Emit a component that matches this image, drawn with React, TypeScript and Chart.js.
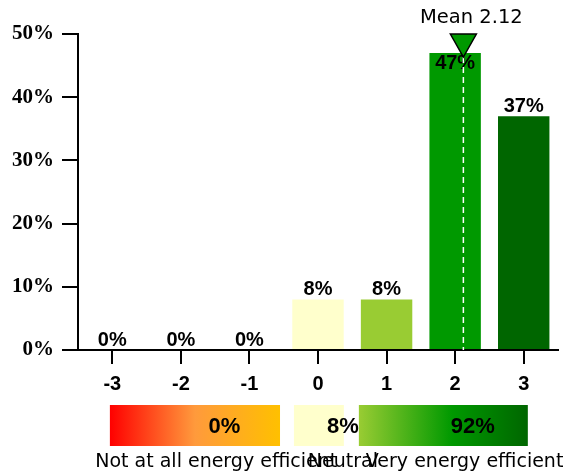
import React, { useEffect, useRef } from "react";
import { Chart, registerables } from "chart.js";

Chart.register(...registerables);

const categories = ["-3", "-2", "-1", "0", "1", "2", "3"];
const values = [0, 0, 0, 8, 8, 47, 37];
const barColors = ["#ff0000", "#ff8000", "#ffc000", "#ffffcc", "#99cc33", "#009900", "#006600"];
const yTicks = [0, 10, 20, 30, 40, 50];
const meanValue = 2.12;
const summaryLabels = ["Not at all energy efficient", "Neutral", "Very energy efficient"];
const summaryValues = [0, 8, 92];
// box extents in category units relative to the "0" category
const summaryExtents = [
  [-3.035, -0.554],
  [-0.351, 0.377],
  [0.596, 3.06],
];

const overlayPlugin = {
  id: "overlay",
  afterDatasetsDraw(chart: any) {
    const ctx = chart.ctx;
    const xs = chart.scales.x;
    const ys = chart.scales.y;
    const area = chart.chartArea;
    const meta = chart.getDatasetMeta(0);
    ctx.save();

    // data labels
    ctx.font = "bold 20px 'Liberation Sans', Arial, sans-serif";
    ctx.fillStyle = "#000";
    ctx.textAlign = "center";
    ctx.textBaseline = "alphabetic";
    meta.data.forEach((bar: any, i: number) => {
      const top = bar.y;
      const label = values[i] + "%";
      if (top - 20 < area.top) {
        ctx.fillText(label, bar.x, top + 16);
      } else {
        ctx.fillText(label, bar.x, top - 4);
      }
    });

    // mean marker
    const minCat = Number(categories[0]);
    const pos = meanValue - minCat;
    const i0 = Math.floor(pos);
    const p0 = xs.getPixelForValue(i0);
    const p1 = xs.getPixelForValue(i0 + 1);
    const mx = p0 + (pos - i0) * (p1 - p0);
    const triTop = area.top;
    const triBot = area.top + 23;
    ctx.strokeStyle = "#ffffff";
    ctx.lineWidth = 1.5;
    ctx.setLineDash([6, 4]);
    ctx.beginPath();
    ctx.moveTo(mx, triBot);
    ctx.lineTo(mx, ys.getPixelForValue(0));
    ctx.stroke();
    ctx.setLineDash([]);
    ctx.beginPath();
    ctx.moveTo(mx - 13, triTop);
    ctx.lineTo(mx + 13, triTop);
    ctx.lineTo(mx, triBot);
    ctx.closePath();
    ctx.fillStyle = "#009900";
    ctx.fill();
    ctx.strokeStyle = "#000";
    ctx.lineWidth = 1.5;
    ctx.stroke();
    ctx.fillStyle = "#000";
    ctx.font = "19.5px 'DejaVu Sans', sans-serif";
    ctx.textBaseline = "middle";
    ctx.fillText("Mean " + meanValue.toFixed(2), mx + 8, 18);

    // summary boxes
    const c0 = xs.getPixelForValue(categories.indexOf("0"));
    const w = xs.getPixelForValue(1) - xs.getPixelForValue(0);
    const boxTop = 405;
    const boxH = 41;
    summaryExtents.forEach((ext, k) => {
      const xa = c0 + ext[0] * w;
      const xb = c0 + ext[1] * w;
      let fill: any;
      if (k === 0) {
        const g = ctx.createLinearGradient(xa, 0, xb, 0);
        g.addColorStop(0, "#ff0000");
        g.addColorStop(0.5, "#ff9a3c");
        g.addColorStop(1, "#ffc000");
        fill = g;
      } else if (k === 1) {
        fill = "#ffffcc";
      } else {
        const g = ctx.createLinearGradient(xa, 0, xb, 0);
        g.addColorStop(0, "#99cc33");
        g.addColorStop(0.55, "#009900");
        g.addColorStop(1, "#006600");
        fill = g;
      }
      ctx.fillStyle = fill;
      ctx.fillRect(xa, boxTop, xb - xa, boxH);
      const cx = (xa + xb) / 2;
      ctx.fillStyle = "#000";
      ctx.font = "bold 22px 'Liberation Sans', Arial, sans-serif";
      ctx.textBaseline = "middle";
      ctx.fillText(summaryValues[k] + "%", cx + (k === 1 ? 0.35 : 0.43) * w, boxTop + boxH / 2 + 1);
      ctx.font = "19px 'DejaVu Sans', sans-serif";
      ctx.fillText(summaryLabels[k], cx + (k === 1 ? 0.35 : 0.31) * w, 462);
    });

    ctx.restore();
  },
};

export default function App() {
  const ref = useRef<HTMLCanvasElement>(null);
  useEffect(() => {
    if (!ref.current) return;
    const chart = new Chart(ref.current, {
      type: "bar",
      data: {
        labels: categories,
        datasets: [
          {
            data: values,
            backgroundColor: barColors,
            borderWidth: 0,
            barPercentage: 0.75,
            categoryPercentage: 1,
          },
        ],
      },
      options: {
        responsive: false,
        animation: false,
        devicePixelRatio: 1,
        layout: { padding: { top: 34, right: 9, left: 0, bottom: 0 } },
        plugins: { legend: { display: false }, tooltip: { enabled: false }, title: { display: false } },
        scales: {
          x: {
            type: "category",
            offset: true,
            grid: { offset: false, drawOnChartArea: false, tickLength: 14, color: "#000", lineWidth: 2 },
            border: { display: true, color: "#000", width: 2 },
            ticks: {
              color: "#000",
              font: { family: "'Liberation Sans', Arial, sans-serif", size: 20, weight: "bold" },
              padding: 8,
              maxRotation: 0,
            },
            afterFit(scale: any) {
              scale.height = 123;
            },
          },
          y: {
            min: 0,
            max: 50,
            afterBuildTicks(scale: any) {
              scale.ticks = yTicks.map((v) => ({ value: v }));
            },
            grid: { drawOnChartArea: false, tickLength: 16, color: "#000", lineWidth: 2 },
            border: { display: true, color: "#000", width: 2 },
            ticks: {
              color: "#000",
              font: { family: "'Liberation Serif', 'Times New Roman', serif", size: 21, weight: "bold" },
              padding: 8,
              callback: (v: any) => v + "%",
            },
            afterFit(scale: any) {
              scale.width = 78;
            },
          },
        },
      },
      plugins: [overlayPlugin],
    } as any);
    return () => chart.destroy();
  }, []);
  return (
    <div style={{ position: "absolute", left: 0, top: 0, width: 567, height: 473, background: "#fff" }}>
      <canvas ref={ref} width={567} height={473} style={{ display: "block" }} />
    </div>
  );
}
